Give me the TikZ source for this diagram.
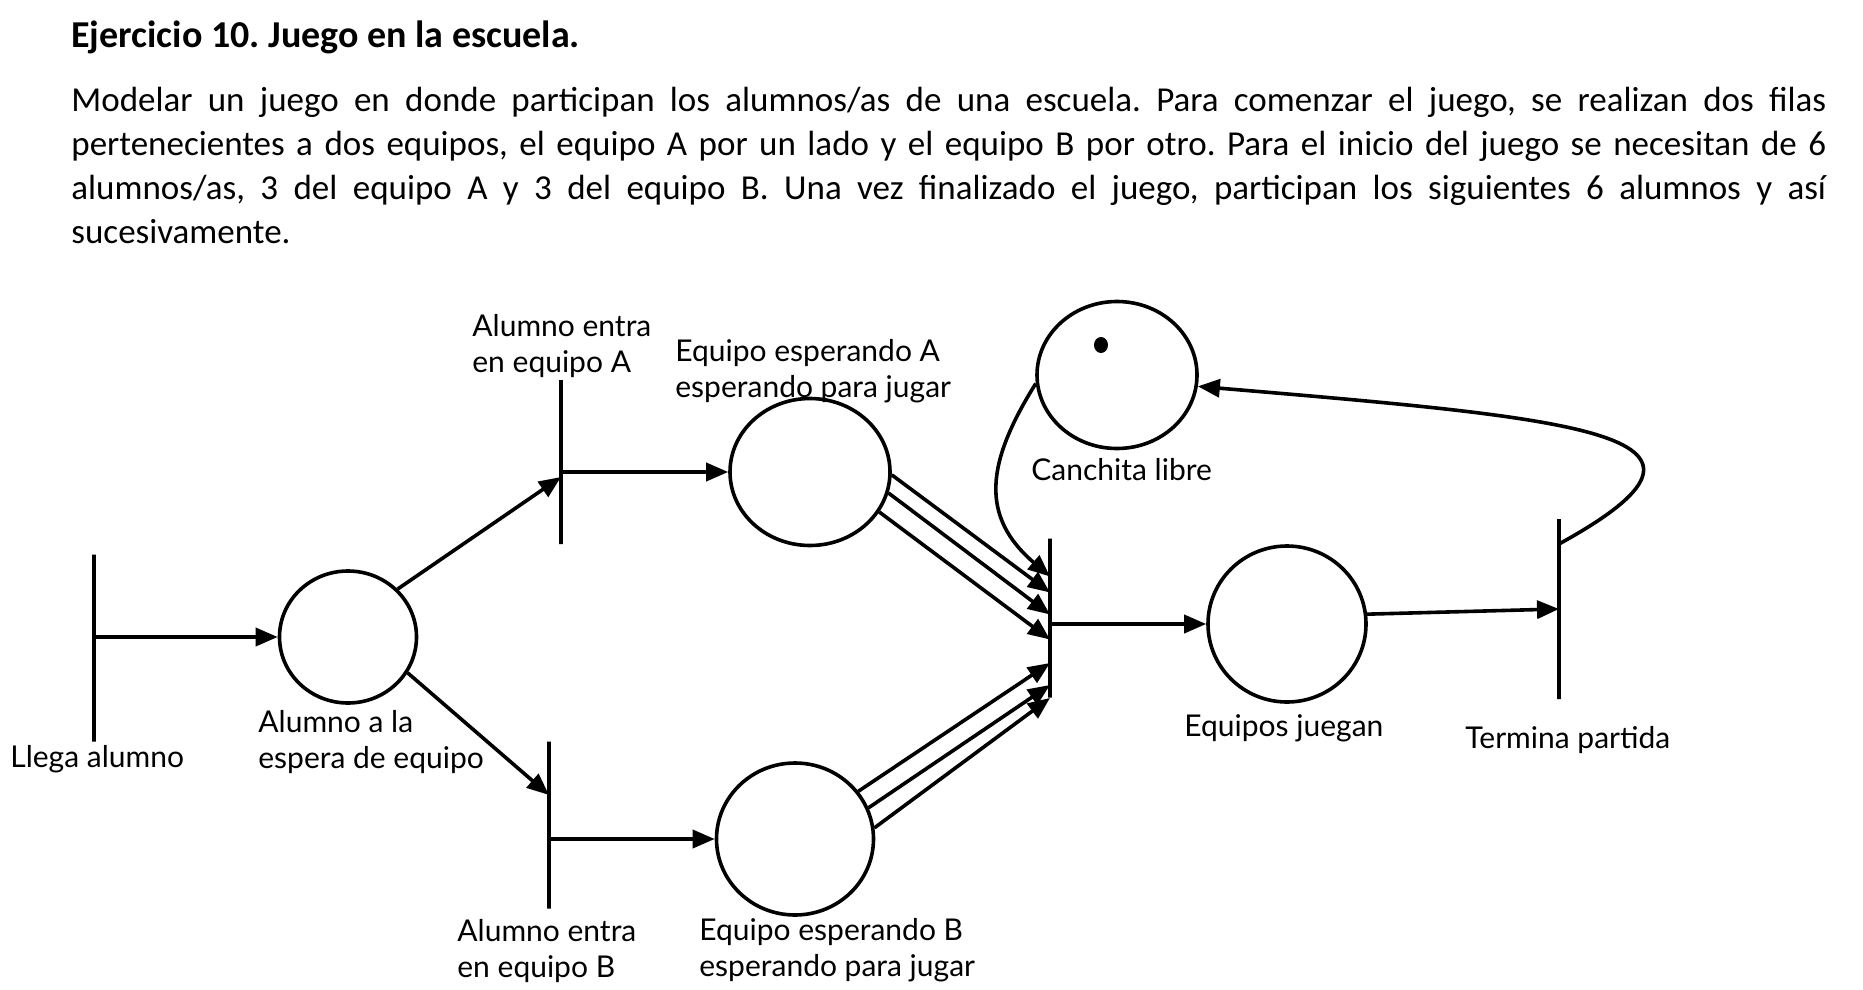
\documentclass[tikz,border=0pt]{standalone}
\usepackage{fontspec}
\setmainfont{Carlito}
\newfontfamily\handfont{Lato}
\usetikzlibrary{arrows.meta, shapes.geometric}
\frenchspacing

\begin{document}
\begin{tikzpicture}[x=0.5pt, y=-0.5pt,
    place/.style={ellipse, draw, line width=1.8pt, inner sep=0pt},
    trans/.style={draw, line width=1.8pt, minimum width=0pt, inner sep=0pt},
    arc/.style={-{Triangle[length=11pt, width=9pt]}, line width=1.8pt},
    lbl/.style={font=\handfont\fontsize{15}{18}\selectfont, align=left, anchor=west, inner sep=0pt}]
    \useasboundingbox (0,0) rectangle (1863,990);

    % Enunciado
    \node[anchor=base west, inner sep=0pt, font=\bfseries\fontsize{19}{23}\selectfont] (titulo) at (71,48) {Ejercicio 10. Juego en la escuela.};
    \node[anchor=north west, inner sep=0pt, text width=877.5pt, align=justify, font=\fontsize{17.5}{22}\selectfont] (enunciado) at (71,87)
        {Modelar un juego en donde participan los alumnos/as de una escuela. Para comenzar el juego, se realizan dos filas\linebreak
         pertenecientes a dos equipos, el equipo A por un lado y el equipo B por otro. Para el inicio del juego se necesitan de 6\linebreak
         alumnos/as, 3 del equipo A y 3 del equipo B. Una vez finalizado el juego, participan los siguientes 6 alumnos y así\linebreak
         sucesivamente.};

    % Places
    \node[place, minimum width=68.5pt, minimum height=66pt] (pAlumno) at (348,637) {};
    \node[place, minimum width=80pt, minimum height=73.5pt] (pEqA) at (810,472) {};
    \node[place, minimum width=78.5pt, minimum height=76pt] (pEqB) at (795,839) {};
    \node[place, minimum width=80pt, minimum height=73.5pt] (pCancha) at (1117,375) {};
    \node[place, minimum width=79pt, minimum height=78pt] (pJuegan) at (1287,624) {};
    \fill (1101,345) ellipse (3.5pt and 4pt); % token

    % Transitions
    \node[trans, minimum height=93.5pt] (tLlega) at (94,648) {};
    \node[trans, minimum height=82pt] (tEntraA) at (561,462) {};
    \node[trans, minimum height=83.5pt] (tEntraB) at (549,825) {};
    \node[trans, minimum height=79.5pt] (tJuego) at (1050,618) {};
    \node[trans, minimum height=90pt] (tTermina) at (1559,609) {};

    % Arcs
    \draw[arc] (pAlumno.west -| tLlega) -- (pAlumno.west);
    \draw[arc] (pAlumno.44) -- ([yshift=-7.5pt]tEntraA.center);
    \draw[arc] (tEntraA.center |- pEqA.west) -- (pEqA.west);
    \draw[arc] (pAlumno.-31) -- ([yshift=15pt]tEntraB.center);
    \draw[arc] (tEntraB.center |- pEqB.west) -- (pEqB.west);
    \foreach \a/\s in {-2/12.75, -15/1.75, -30/-10.75}
        \draw[arc] (pEqA.\a) -- ([yshift=\s pt]tJuego.center);
    \foreach \a/\s in {37/-22.5, 23/-33.5, 8/-40}
        \draw[arc] (pEqB.\a) -- ([yshift=\s pt]tJuego.center);
    \draw[arc] (pCancha.186) .. controls +(-50,80) and +(-70,-60) .. ([yshift=20.75pt]tJuego.center);
    \draw[arc] (tJuego.center |- pJuegan.west) -- (pJuegan.west);
    \draw[arc] (pJuegan.7) -- (tTermina.center);
    \draw[arc] ([yshift=32.5pt]tTermina.center) .. controls +(200,-110) and +(390,33) .. (pCancha.-8);

    % Labels
    \node[lbl] (lLlega) at (10,759) {Llega alumno};
    \node[lbl] (lAlumno) at (258,742) {Alumno a la\\espera de equipo};
    \node[lbl] (lEntraA) at (472,346) {Alumno entra\\en equipo A};
    \node[lbl] (lEqA) at (675,371) {Equipo esperando A\\esperando para jugar};
    \node[lbl] (lCancha) at (1031,470) {Canchita libre};
    \node[lbl] (lJuegan) at (1184,728) {Equipos juegan};
    \node[lbl] (lTermina) at (1465,740) {Termina partida};
    \node[lbl] (lEntraB) at (457,951) {Alumno entra\\en equipo B};
    \node[lbl] (lEqB) at (699,950) {Equipo esperando B\\esperando para jugar};
\end{tikzpicture}
\end{document}
